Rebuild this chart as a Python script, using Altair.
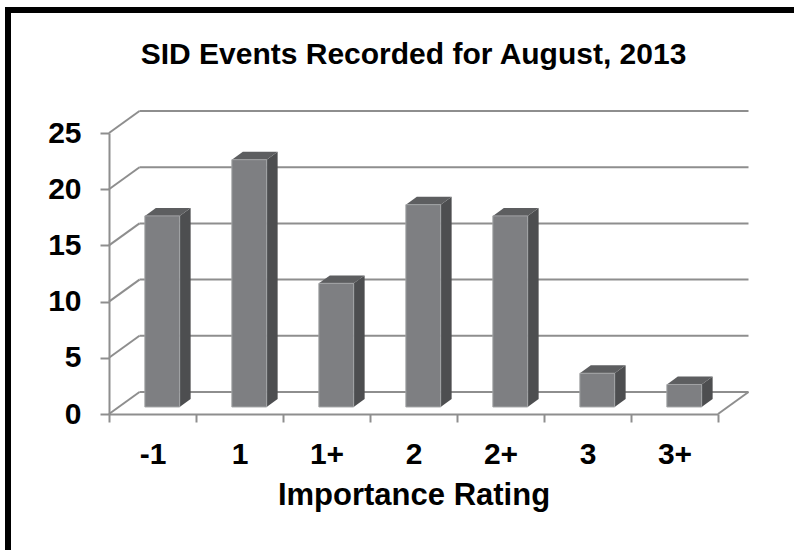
import altair as alt
import pandas as pd

# ---- data ----
categories = ["-1", "1", "1+", "2", "2+", "3", "3+"]
counts = [17, 22, 11, 18, 17, 3, 2]
y_ticks = [0, 5, 10, 15, 20, 25]
title_text = "SID Events Recorded for August, 2013"
x_title = "Importance Rating"

# ---- geometry / style constants ----
W, H = 609, 281
YMAX = 25
N = len(categories)
DX = 30.5 / (W / N)      # depth of 3-D box in x-scale units
DY = 22.0 / (H / YMAX)   # depth of 3-D box in y-scale units
F1, F2 = 0.32, 0.68      # bar front / back depth fraction
B0, B1 = 0.30, 0.70      # bar extent within its category band
FONT = "Liberation Sans, Arial, sans-serif"
GRID = "#8e8e8e"
FRONT, SIDE, TOP = "#7e7f82", "#4d4e50", "#5d5e60"

xs = alt.Scale(domain=[0, N], nice=False, zero=False)
ys = alt.Scale(domain=[0, YMAX], nice=False, zero=True)

front_rows, side_rows, top_rows = [], [], []
for i, (c, v) in enumerate(zip(categories, counts)):
    front_rows.append(dict(cat=c, x=i + B0 + F1 * DX, x2=i + B1 + F1 * DX,
                           y=F1 * DY, y2=v + F1 * DY))
    for f in (F1, F2):
        side_rows.append(dict(cat=c, x=i + B1 + f * DX, lo=f * DY, hi=v + f * DY))
        top_rows.append(dict(cat=c, y=v + f * DY, xl=i + B0 + f * DX, xr=i + B1 + f * DX))
front = pd.DataFrame(front_rows)
side = pd.DataFrame(side_rows)
top = pd.DataFrame(top_rows)

back = pd.DataFrame(dict(x=[DX] * len(y_ticks), x2=[N + DX] * len(y_ticks),
                         y=[g + DY for g in y_ticks]))
diag = pd.DataFrame(dict(x=[0] * len(y_ticks), x2=[DX] * len(y_ticks),
                         y=y_ticks, y2=[g + DY for g in y_ticks]))
rdiag = pd.DataFrame(dict(x=[N], x2=[N + DX], y=[0], y2=[DY]))

# label expression: boundary tick k carries the label of category k (shifted half a band)
label_expr = "''"
for k in range(N - 1, -1, -1):
    label_expr = f"datum.value == {k} ? '{categories[k]}' : ({label_expr})"

x_axis = alt.Axis(values=list(range(N + 1)), labelExpr=label_expr,
                  labelOffset=W / N / 2, labelFlush=False, labelOverlap=False,
                  tickSize=8, tickWidth=2, tickColor=GRID, domainColor=GRID, domainWidth=2,
                  grid=False, labelFont=FONT, labelFontSize=30, labelFontWeight="bold",
                  labelColor="black", labelPadding=17, title=x_title, titleFont=FONT,
                  titleFontSize=31, titleFontWeight="bold", titleColor="black", titlePadding=11)
y_axis = alt.Axis(values=y_ticks, tickSize=9, tickWidth=2, tickColor=GRID, domainColor=GRID,
                  domainWidth=2, grid=False, labelFont=FONT, labelFontSize=30,
                  labelFontWeight="bold", labelColor="black", labelPadding=19, title="")


def X(field):
    return alt.X(field, scale=xs, axis=x_axis)


def Y(field):
    return alt.Y(field, scale=ys, axis=y_axis)


frame = alt.Chart(pd.DataFrame({"a": [0]})).mark_rect(
    fill=None, stroke="black", strokeWidth=6).encode(
    x=alt.value(-101), x2=alt.value(720), y=alt.value(-123), y2=alt.value(450))

back_l = alt.Chart(back).mark_rule(color=GRID, strokeWidth=2).encode(
    x=X("x:Q"), x2="x2:Q", y=Y("y:Q"))
diag_l = alt.Chart(diag).mark_rule(color=GRID, strokeWidth=2).encode(
    x=X("x:Q"), x2="x2:Q", y=Y("y:Q"), y2="y2:Q")
rdiag_l = alt.Chart(rdiag).mark_rule(color=GRID, strokeWidth=2).encode(
    x=X("x:Q"), x2="x2:Q", y=Y("y:Q"), y2="y2:Q")
front_l = alt.Chart(front).mark_rect(color=FRONT, stroke="#a2a3a5", strokeWidth=1).encode(
    x=X("x:Q"), x2="x2:Q", y=Y("y:Q"), y2="y2:Q")
side_l = alt.Chart(side).mark_area(color=SIDE, orient="vertical", interpolate="linear").encode(
    x=X("x:Q"), y=Y("hi:Q"), y2="lo:Q", detail="cat:N")
top_l = alt.Chart(top).mark_area(color=TOP, orient="horizontal", interpolate="linear").encode(
    y=Y("y:Q"), x=X("xl:Q"), x2="xr:Q", detail="cat:N")

chart = alt.layer(back_l, diag_l, rdiag_l, side_l, top_l, front_l, frame).properties(
    width=W, height=H, background="white",
    title=alt.TitleParams(title_text, font=FONT, fontSize=30, fontWeight="bold",
                          color="black", anchor="middle", offset=-63),
    autosize=alt.AutoSizeParams(type="none"),
    padding={"left": 109, "top": 133, "right": 794 - 109 - W, "bottom": 550 - 133 - H},
).configure_view(strokeWidth=0)

chart.save("out.html", embed_options={"renderer": "svg", "actions": False})
